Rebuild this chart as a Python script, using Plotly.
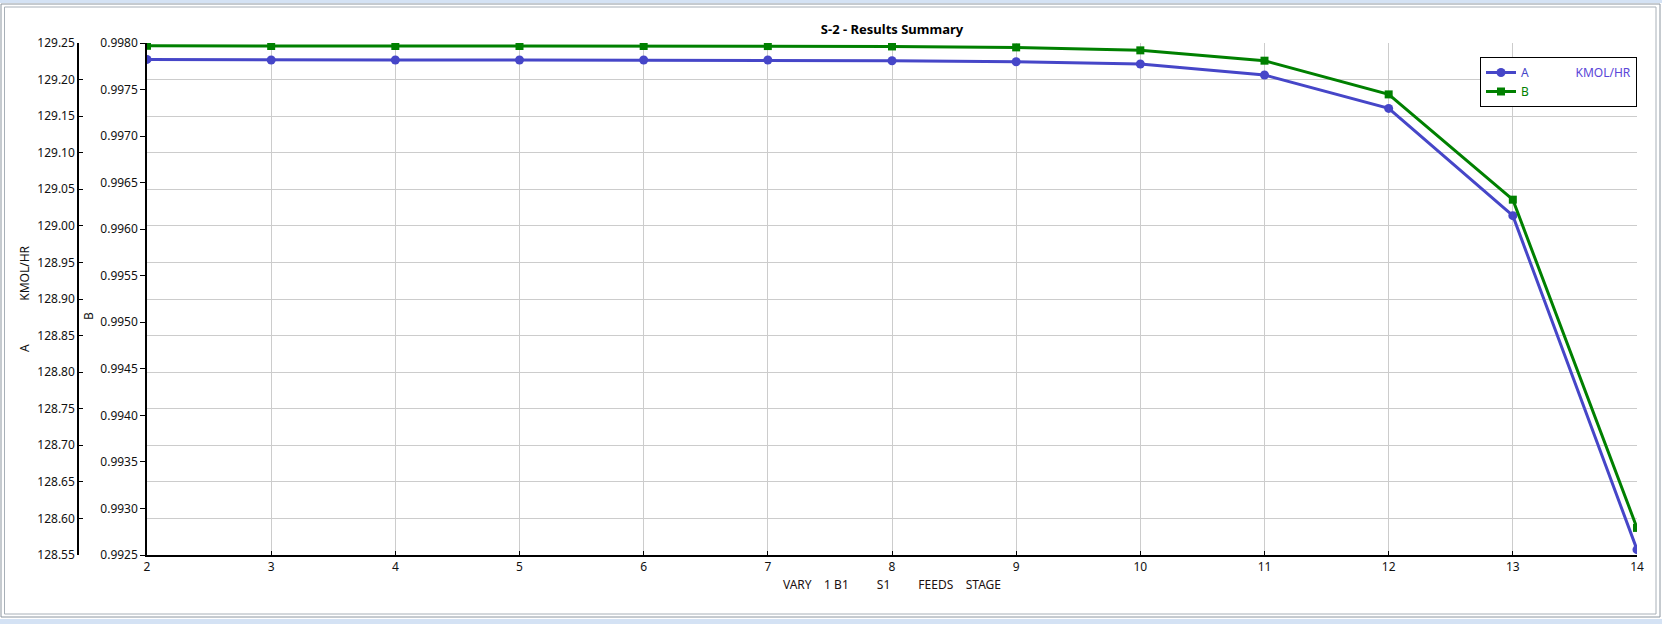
import plotly.graph_objects as go

# ---- data ----
stages = [2, 3, 4, 5, 6, 7, 8, 9, 10, 11, 12, 13, 14]
a_kmol_hr = [129.2276, 129.2268, 129.2268, 129.2268, 129.2268, 129.2267, 129.2258,
             129.2244, 129.2213, 129.2063, 129.1606, 129.0139, 128.5573]
b_frac = [0.997970, 0.997968, 0.997968, 0.997968, 0.997968, 0.997967, 0.997963,
          0.997953, 0.997921, 0.997810, 0.997448, 0.996317, 0.992791]
x_ticks = list(range(2, 15))
title_text = "S-2 - Results Summary"
x_title = "VARY\u00a0\u00a0\u00a0 1 B1\u00a0\u00a0\u00a0\u00a0\u00a0\u00a0\u00a0\u00a0 S1\u00a0\u00a0\u00a0\u00a0\u00a0\u00a0\u00a0\u00a0 FEEDS\u00a0\u00a0\u00a0 STAGE"

W, H = 1662, 624
ML, MR, MT, MB = 20, 25, 43, 69
PW = W - ML - MR
PH = H - MT - MB
PLOT_LEFT = 147

BLUE = "#4646c8"
GREEN = "#008000"
FONT = "Noto Sans"

def px_x(p):
    return (p - ML) / PW

def px_y(p):
    return (H - MB - p) / PH

nb = "\u00a0"
fig = go.Figure()
fig.add_trace(go.Scatter(
    x=stages, y=a_kmol_hr, mode="lines+markers",
    name=f"<span style='color:{BLUE}'>A</span>" + nb * 15 + "<span style='color:#5a46d8'>KMOL/HR</span>",
    line=dict(color=BLUE, width=3), marker=dict(symbol="circle", size=9, color=BLUE),
    xaxis="x", yaxis="y",
))
fig.add_trace(go.Scatter(
    x=stages, y=b_frac, mode="lines+markers",
    name=f"<span style='color:{GREEN}'>B</span>",
    line=dict(color=GREEN, width=3), marker=dict(symbol="square", size=8, color=GREEN),
    xaxis="x", yaxis="y2",
))

dom0 = px_x(PLOT_LEFT)
fig.update_layout(
    width=W, height=H,
    margin=dict(l=ML, r=MR, t=MT, b=MB, pad=0),
    paper_bgcolor="white", plot_bgcolor="white",
    font=dict(family=FONT, size=12, color="#111111"),
    title=dict(text=f"<b>{title_text}</b>", x=(0.5 * (dom0 + 1)) * PW / W + ML / W,
               xanchor="center", y=1 - 29 / H, yanchor="middle",
               font=dict(family=FONT, size=13, color="#000000")),
    showlegend=True,
    legend=dict(x=1, xanchor="right", y=px_y(57), yanchor="top",
                bgcolor="white", bordercolor="black", borderwidth=1,
                font=dict(family=FONT, size=12), tracegroupgap=0),
    xaxis=dict(domain=[dom0, 1], range=[2, 14], tickvals=x_ticks,
               showgrid=True, gridcolor="#cccccc", gridwidth=1,
               showline=True, linecolor="black", linewidth=1.5,
               ticks="inside", ticklen=4, tickcolor="black",
               zeroline=False, anchor="y2",
               title=dict(text=x_title, standoff=6, font=dict(size=12, color="#201010"))),
    yaxis=dict(range=[128.55, 129.25], dtick=0.05, tick0=128.55, tickformat=".2f",
               anchor="free", position=px_x(78),
               showgrid=True, gridcolor="#cccccc", gridwidth=1,
               showline=True, linecolor="black", linewidth=1.5,
               ticks="inside", ticklen=4, tickcolor="black", zeroline=False,
               title=dict(text="A" + nb * 14 + "KMOL/HR", standoff=4, font=dict(size=12))),
    yaxis2=dict(range=[0.9925, 0.9980], dtick=0.0005, tick0=0.9925, tickformat=".4f",
                anchor="x", overlaying="y", side="left",
                showgrid=False, showline=True, linecolor="black", linewidth=1.5,
                ticks="outside", ticklen=5, tickcolor="black", zeroline=False,
                title=dict(text="B" + nb * 11 + "\u200b", standoff=4, font=dict(size=12))),
    shapes=[
        dict(type="rect", xref="paper", yref="paper",
             x0=px_x(0), x1=px_x(W), y0=px_y(0), y1=px_y(3),
             fillcolor="#d4e2f4", line=dict(width=0), layer="below"),
        dict(type="rect", xref="paper", yref="paper",
             x0=px_x(0), x1=px_x(W), y0=px_y(619), y1=px_y(H),
             fillcolor="#d4e2f4", line=dict(width=0), layer="below"),
        dict(type="rect", xref="paper", yref="paper",
             x0=px_x(1), x1=px_x(1660), y0=px_y(4), y1=px_y(617),
             line=dict(color="#8c96a0", width=1), layer="below"),
        dict(type="rect", xref="paper", yref="paper",
             x0=px_x(4.5), x1=px_x(1656), y0=px_y(7), y1=px_y(614),
             line=dict(color="#a8b0b8", width=1), layer="below"),
    ],
)

fig.write_html("out.html", config={"displayModeBar": False},
               post_script="document.body.style.margin='0';document.body.style.overflow='hidden';")
